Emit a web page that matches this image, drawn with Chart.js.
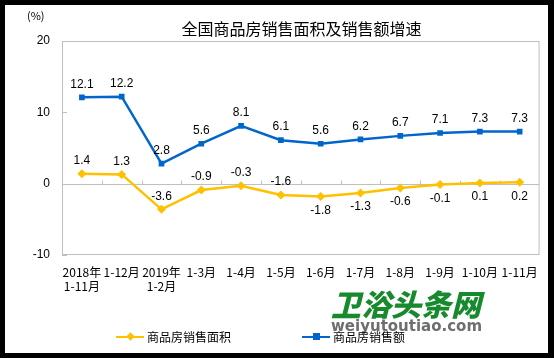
<!DOCTYPE html>
<html>
<head>
<meta charset="utf-8">
<script src="https://cdn.jsdelivr.net/npm/chart.js@4/dist/chart.umd.min.js"></script>
<style>
    body { margin: 0; background: #000; width: 554px; height: 358px; overflow: hidden; }
    #box { position: absolute; left: 5px; top: 5px; width: 543px; height: 348px; background: #fff; }
    #chart { position: absolute; left: 0; top: 0; }
    .txt { position: absolute; font-family: "Noto Sans CJK SC", sans-serif; color: #000; white-space: nowrap; }
    #title { left: 25px; width: 543px; top: 11px; text-align: center; font-size: 16px; }
    #unit { left: 22px; top: 2px; font-size: 11px; }
    .leg { position: absolute; top: 325px; height: 14px; font-family: "Noto Sans CJK SC", sans-serif; font-size: 12px; line-height: 14px; }
    .leg .ln { position: absolute; left: 0; top: 6px; width: 28px; height: 2px; }
    .leg .mk { position: absolute; left: 11px; top: 3px; width: 7px; height: 7px; }
    .leg span.t { position: absolute; left: 31px; top: 0; white-space: nowrap; }
    #wm1 { position: absolute; left: 326px; top: 276px; font-family: "Noto Sans CJK SC", sans-serif; font-weight: 900; font-size: 30px; color: #178a2e; font-style: italic; }
    #wm2 { position: absolute; left: 326px; top: 312px; font-family: "DejaVu Sans", sans-serif; font-weight: bold; font-size: 15px; color: #6e6e6e; }
</style>
</head>
<body>
<div id="box">
    <canvas id="chart" width="543" height="348"></canvas>
    <div class="txt" id="unit">(%)</div>
    <div class="txt" id="title">全国商品房销售面积及销售额增速</div>
    <div id="wm1">卫浴头条网</div>
    <div id="wm2">weiyutoutiao.com</div>
    <div class="leg" style="left:111px;">
        <div class="ln" style="background:#ffc000"></div>
        <div class="mk" style="background:#ffc000;transform:rotate(45deg) scale(0.85);"></div>
        <span class="t">商品房销售面积</span>
    </div>
    <div class="leg" style="left:297px;">
        <div class="ln" style="background:#0066cc"></div>
        <div class="mk" style="background:#0066cc;"></div>
        <span class="t">商品房销售额</span>
    </div>
</div>
<script>
const categories = [
    ['2018年', '1-11月'], '1-12月', ['2019年', '1-2月'], '1-3月', '1-4月', '1-5月',
    '1-6月', '1-7月', '1-8月', '1-9月', '1-10月', '1-11月'
];
const areaGrowth = [1.4, 1.3, -3.6, -0.9, -0.3, -1.6, -1.8, -1.3, -0.6, -0.1, 0.1, 0.2];
const salesGrowth = [12.1, 12.2, 2.8, 5.6, 8.1, 6.1, 5.6, 6.2, 6.7, 7.1, 7.3, 7.3];
const yTicks = [-10, 0, 10, 20];
// which labels of the area series sit under their point
const areaBelow = [false, false, false, false, false, false, true, true, true, true, true, true];

const frame = {
    id: 'frame',
    beforeDatasetsDraw(chart) {
        const { ctx, chartArea: a, scales: { x, y } } = chart;
        ctx.save();
        ctx.strokeStyle = '#bfbfbf';
        ctx.lineWidth = 1;
        ctx.strokeRect(a.left + 0.5, a.top + 0.5, a.right - a.left - 1, a.bottom - a.top - 1);
        const y0 = Math.round(y.getPixelForValue(0)) + 0.5;
        ctx.beginPath();
        ctx.moveTo(a.left, y0);
        ctx.lineTo(a.right, y0);
        // category separators on the zero line
        for (let i = 1; i < categories.length; i++) {
            const px = Math.round((x.getPixelForValue(i - 1) + x.getPixelForValue(i)) / 2) + 0.5;
            ctx.moveTo(px, y0);
            ctx.lineTo(px, y0 - 4);
        }
        yTicks.forEach(v => {
            const py = Math.round(y.getPixelForValue(v)) + 0.5;
            ctx.moveTo(a.left, py);
            ctx.lineTo(a.left + 5, py);
        });
        ctx.stroke();
        ctx.restore();
    },
    afterDatasetsDraw(chart) {
        const { ctx } = chart;
        ctx.save();
        ctx.font = '12px "Liberation Sans", Arial, sans-serif';
        ctx.fillStyle = '#000';
        ctx.textAlign = 'center';
        ctx.textBaseline = 'middle';
        chart.data.datasets.forEach((ds, di) => {
            chart.getDatasetMeta(di).data.forEach((pt, i) => {
                const below = di === 0 && areaBelow[i];
                ctx.fillText(ds.data[i].toFixed(1), pt.x, pt.y + (below ? 14 : -13));
            });
        });
        ctx.restore();
    }
};

new Chart(document.getElementById('chart').getContext('2d'), {
    type: 'line',
    data: {
        labels: categories,
        datasets: [{
            label: '商品房销售面积',
            data: areaGrowth,
            borderColor: '#ffc000',
            backgroundColor: '#ffc000',
            borderWidth: 2.5,
            pointStyle: 'rectRot',
            pointRadius: 4.5,
            pointBorderWidth: 0,
            tension: 0
        }, {
            label: '商品房销售额',
            data: salesGrowth,
            borderColor: '#0066cc',
            backgroundColor: '#0066cc',
            borderWidth: 2.5,
            pointStyle: 'rect',
            pointRadius: 4,
            pointBorderWidth: 0,
            tension: 0
        }]
    },
    options: {
        responsive: false,
        animation: false,
        layout: { padding: { left: 0, right: 6, top: 36, bottom: 0 } },
        plugins: {
            legend: { display: false },
            title: { display: false },
            tooltip: { enabled: false }
        },
        scales: {
            x: {
                offset: true,
                grid: { display: false, drawTicks: false },
                border: { display: false },
                ticks: {
                    padding: 10,
                    maxRotation: 0,
                    autoSkip: false,
                    color: '#000',
                    font: { family: '"Noto Sans CJK SC", sans-serif', size: 12, lineHeight: 1.2 }
                },
                afterFit(s) { s.height = 98; }
            },
            y: {
                min: -10,
                max: 20,
                grid: { display: false, drawTicks: false },
                border: { display: false },
                afterBuildTicks(s) { s.ticks = yTicks.map(v => ({ value: v })); },
                ticks: {
                    padding: 12,
                    color: '#000',
                    font: { family: '"Liberation Sans", Arial, sans-serif', size: 12 }
                },
                afterFit(s) { s.width = 57; }
            }
        }
    },
    plugins: [frame]
});
</script>
</body>
</html>
